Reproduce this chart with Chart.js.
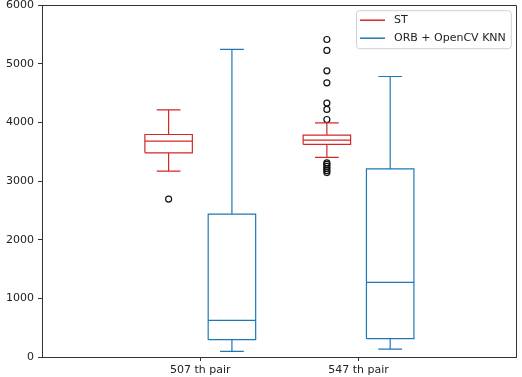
<!DOCTYPE html>
<html>
<head>
<meta charset="utf-8">
<script src="https://cdn.jsdelivr.net/npm/chart.js@4/dist/chart.umd.min.js"></script>
<style>
  html, body { margin: 0; padding: 0; background: #fff; }
  #wrap { width: 522px; height: 377px; position: relative; }
</style>
</head>
<body>
<div id="wrap"><canvas id="boxChart"></canvas></div>
<script>
// categories on the x axis (box positions 1, 2)
const categories = ["507 th pair", "547 th pair"];
const yTicks = [0, 1000, 2000, 3000, 4000, 5000, 6000];

// each box: [lower whisker, Q1, median, Q3, upper whisker]
const stBoxes = [
  [3170, 3483, 3682, 3795, 4215],
  [3404, 3626, 3699, 3784, 3994],
];
const orbBoxes = [
  [97, 295, 625, 2437, 5245],
  [136, 312, 1273, 3210, 4784],
];

// fliers
const stOutliers = [
  [2693],
  [5415, 5228, 4880, 4676, 4330, 4222, 4051, 3312, 3285, 3250, 3215, 3180, 3145],
];
const orbOutliers = [[], []];

const RED = "#d62728";
const BLUE = "#1f77b4";
const FONT = "DejaVu Sans";

const SHIFT = 0.2;   // offset of each group from the category tick
const HALF = 0.15;   // half box width
const CAP = 0.075;   // half whisker cap width

function boxPath(boxes, shift) {
  const pts = [];
  boxes.forEach((b, i) => {
    const [lo, q1, med, q3, hi] = b;
    const c = i + 1 + shift;
    const l = c - HALF, r = c + HALF;
    const gap = { x: c, y: null };
    pts.push({ x: l, y: q1 }, { x: r, y: q1 }, { x: r, y: q3 }, { x: l, y: q3 }, { x: l, y: q1 }, gap);
    pts.push({ x: l, y: med }, { x: r, y: med }, gap);
    pts.push({ x: c, y: q1 }, { x: c, y: lo }, gap);
    pts.push({ x: c - CAP, y: lo }, { x: c + CAP, y: lo }, gap);
    pts.push({ x: c, y: q3 }, { x: c, y: hi }, gap);
    pts.push({ x: c - CAP, y: hi }, { x: c + CAP, y: hi }, gap);
  });
  return pts;
}

function flierPoints(outliers, shift) {
  const pts = [];
  outliers.forEach((vals, i) => {
    vals.forEach((v) => pts.push({ x: i + 1 + shift, y: v }));
  });
  return pts;
}

// matplotlib-like legend inside the axes, top right
const innerLegend = {
  id: "innerLegend",
  afterDraw(chart) {
    const ctx = chart.ctx;
    const area = chart.chartArea;
    const items = chart.data.datasets.filter((d) => d.inLegend);
    ctx.save();
    ctx.font = "11px '" + FONT + "'";
    const maxW = Math.max(...items.map((d) => ctx.measureText(d.label).width));
    const right = area.right - 6;
    const w = maxW + 43;
    const left = right - w;
    const top = area.top + 5;
    const h = 38;
    ctx.beginPath();
    ctx.roundRect(left + 0.5, top + 0.5, w, h, 3);
    ctx.fillStyle = "rgba(255,255,255,0.8)";
    ctx.fill();
    ctx.strokeStyle = "#d0d0d0";
    ctx.lineWidth = 1;
    ctx.stroke();
    items.forEach((d, i) => {
      const y = top + 10 + i * 18;
      ctx.beginPath();
      ctx.moveTo(left + 4, y);
      ctx.lineTo(left + 29, y);
      ctx.strokeStyle = d.borderColor;
      ctx.lineWidth = 1.5;
      ctx.stroke();
      ctx.fillStyle = "#222";
      ctx.textBaseline = "middle";
      ctx.fillText(d.label, left + 38, y);
    });
    ctx.restore();
  },
};

// top and right spines
const frame = {
  id: "frame",
  afterDraw(chart) {
    const { ctx, chartArea: a } = chart;
    ctx.save();
    ctx.strokeStyle = "#333";
    ctx.lineWidth = 1;
    ctx.beginPath();
    const l = Math.round(a.left) + 0.5, r = Math.round(a.right) - 0.5;
    const t = Math.round(a.top) + 0.5;
    ctx.moveTo(l, t);
    ctx.lineTo(r, t);
    ctx.lineTo(r, Math.round(a.bottom));
    ctx.stroke();
    ctx.restore();
  },
};

new Chart(document.getElementById("boxChart"), {
  type: "scatter",
  data: {
    datasets: [
      {
        label: "ST",
        inLegend: true,
        data: boxPath(stBoxes, -SHIFT),
        showLine: true,
        spanGaps: false,
        borderColor: RED,
        borderWidth: 1.2,
        pointRadius: 0,
        fill: false,
      },
      {
        label: "ORB + OpenCV KNN",
        inLegend: true,
        data: boxPath(orbBoxes, SHIFT),
        showLine: true,
        spanGaps: false,
        borderColor: BLUE,
        borderWidth: 1.2,
        pointRadius: 0,
        fill: false,
      },
      {
        label: "ST fliers",
        data: flierPoints(stOutliers, -SHIFT),
        pointStyle: "circle",
        pointRadius: 3,
        borderColor: "#111",
        backgroundColor: "rgba(0,0,0,0)",
        borderWidth: 1.2,
      },
      {
        label: "ORB fliers",
        data: flierPoints(orbOutliers, SHIFT),
        pointStyle: "circle",
        pointRadius: 3,
        borderColor: "#111",
        backgroundColor: "rgba(0,0,0,0)",
        borderWidth: 1.2,
      },
    ],
  },
  options: {
    responsive: true,
    maintainAspectRatio: false,
    animation: false,
    events: [],
    layout: { padding: { top: 5, right: 5, left: 0, bottom: 0 } },
    plugins: {
      legend: { display: false },
      tooltip: { enabled: false },
    },
    scales: {
      x: {
        type: "linear",
        min: 0,
        max: 3,
        afterBuildTicks(scale) {
          scale.ticks = categories.map((c, i) => ({ value: i + 1 }));
        },
        afterFit(scale) {
          scale.height = 20;
        },
        grid: { drawOnChartArea: false, tickLength: 4, color: "#333" },
        border: { color: "#333", width: 1 },
        ticks: {
          color: "#222",
          padding: 3,
          font: { family: FONT, size: 11 },
          maxRotation: 0,
          callback: (v) => categories[v - 1],
        },
      },
      y: {
        type: "linear",
        min: yTicks[0],
        max: yTicks[yTicks.length - 1],
        afterBuildTicks(scale) {
          scale.ticks = yTicks.map((v) => ({ value: v }));
        },
        afterFit(scale) {
          scale.width = 42;
          scale.paddingTop = 0;
          scale.paddingBottom = 0;
        },
        grid: { drawOnChartArea: false, tickLength: 4, color: "#333" },
        border: { color: "#333", width: 1 },
        ticks: {
          color: "#222",
          padding: 4,
          font: { family: FONT, size: 11 },
          callback: (v) => String(v),
        },
      },
    },
  },
  plugins: [innerLegend, frame],
});
</script>
</body>
</html>
